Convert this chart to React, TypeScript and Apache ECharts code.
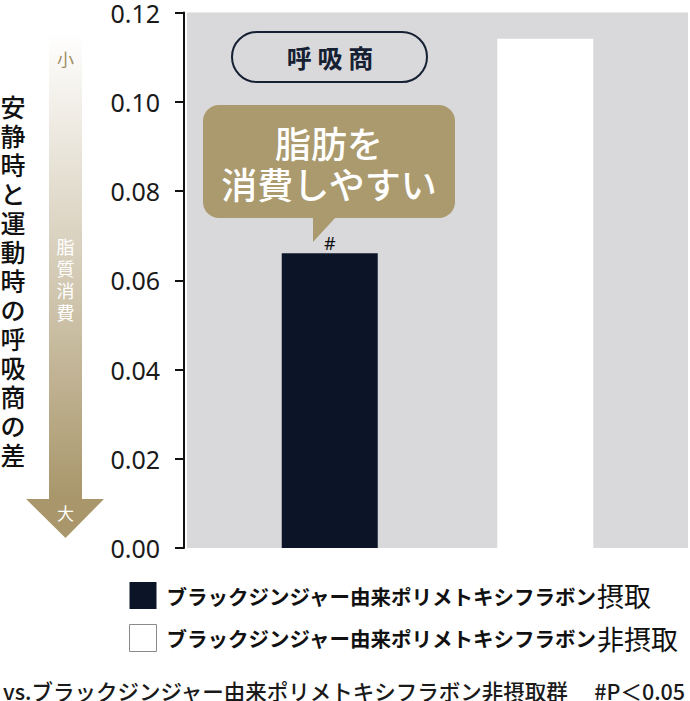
import { useEffect, useRef } from "react";
import * as echarts from "echarts";

const categories = ["摂取", "非摂取"];
const seriesNames = [
  "ブラックジンジャー由来ポリメトキシフラボン摂取",
  "ブラックジンジャー由来ポリメトキシフラボン非摂取",
];
const intakeValues = [0.066, "-"];
const nonIntakeValues = ["-", 0.114];
const yTicks = { min: 0, max: 0.12, interval: 0.02 };
const axisTitle = "安静時と運動時の呼吸商の差";
const arrowLabel = "脂質消費";
const footnote = "vs.ブラックジンジャー由来ポリメトキシフラボン非摂取群";
const pValue = "#P＜0.05";

const JP = '"Noto Sans CJK JP", "Noto Sans", sans-serif';
const TAN = "#ab9a6e";
const NAVY = "#0b1527";

export default function App() {
  const chartRef = useRef<HTMLDivElement>(null);

  useEffect(() => {
    if (!chartRef.current) return;
    const chart = echarts.init(chartRef.current, null, { renderer: "svg" });

    chart.setOption({
      animation: false,
      textStyle: { fontFamily: JP },
      grid: [
        { left: 187, right: 2, top: 12, bottom: 153, show: true, backgroundColor: "#d9d9db", borderWidth: 0 },
        { left: 222, right: 37, top: 12, bottom: 153 },
      ],
      xAxis: [
        { type: "category", gridIndex: 0, data: categories, show: false },
        { type: "category", gridIndex: 1, data: categories, show: false },
      ],
      yAxis: [
        {
          type: "value",
          gridIndex: 0,
          min: yTicks.min,
          max: yTicks.max,
          interval: yTicks.interval,
          offset: 3,
          axisLine: { show: true, lineStyle: { color: "#111", width: 2 } },
          axisTick: { show: true, length: 9, lineStyle: { color: "#111", width: 2 } },
          splitLine: { show: false },
          axisLabel: {
            color: "#1a1a1a",
            fontSize: 25,
            fontFamily: '"Noto Sans", sans-serif',
            margin: 24,
            formatter: (v: number) => v.toFixed(2),
          },
        },
        { type: "value", gridIndex: 1, min: yTicks.min, max: yTicks.max, show: false },
      ],
      legend: {
        orient: "vertical",
        left: 129,
        top: 582,
        padding: 0,
        itemWidth: 27,
        itemHeight: 27,
        itemGap: 15,
        icon: "rect",
        selectedMode: false,
        data: [
          { name: seriesNames[0], itemStyle: { color: NAVY } },
          { name: seriesNames[1], itemStyle: { color: "#fff", borderColor: "#8a8a8a", borderWidth: 1 } },
        ],
        formatter: (name: string) => {
          const m = name.match(/^(.*?)(非?摂取)$/);
          return m ? `{a|${m[1]}}{b|${m[2]}}` : name;
        },
        textStyle: {
          color: "#111",
          rich: {
            a: { fontSize: 20.5, fontWeight: "bold", fontFamily: JP, padding: [0, 0, 0, 5], color: "#111" },
            b: { fontSize: 27, fontWeight: "normal", fontFamily: JP, color: "#111" },
          },
        },
      },
      series: [
        {
          name: seriesNames[0],
          type: "bar",
          xAxisIndex: 1,
          yAxisIndex: 1,
          data: intakeValues,
          barWidth: 96,
          barGap: "-100%",
          itemStyle: { color: NAVY },
          label: {
            show: true,
            position: "top",
            distance: 1,
            formatter: "#",
            fontSize: 18,
            color: "#111",
            fontFamily: '"Noto Sans", sans-serif',
          },
        },
        {
          name: seriesNames[1],
          type: "bar",
          xAxisIndex: 1,
          yAxisIndex: 1,
          data: nonIntakeValues,
          barWidth: 96,
          itemStyle: { color: "#fff" },
        },
      ],
      graphic: [
        // gradient arrow
        {
          type: "polygon",
          shape: {
            points: [
              [49, 32], [82, 32], [82, 499], [104, 499], [65.5, 538], [26, 499], [49, 499],
            ],
          },
          style: {
            fill: new echarts.graphic.LinearGradient(0, 0, 0, 1, [
              { offset: 0, color: "rgba(255,255,255,1)" },
              { offset: 0.5, color: "#d2c8b2" },
              { offset: 0.92, color: "#a9976b" },
              { offset: 1, color: "#a9976b" },
            ]),
          },
        },
        {
          type: "text",
          x: 65.5,
          y: 58,
          style: { text: "小", fontSize: 17, fill: "#a08c5e", align: "center", verticalAlign: "middle", fontFamily: JP },
        },
        {
          type: "text",
          x: 65.5,
          y: 279,
          style: {
            text: arrowLabel.split("").join("\n"),
            fontSize: 18,
            lineHeight: 22,
            fill: "#fff",
            align: "center",
            verticalAlign: "middle",
            fontFamily: JP,
          },
        },
        {
          type: "text",
          x: 65.5,
          y: 512,
          style: { text: "大", fontSize: 17, fill: "#fff", align: "center", verticalAlign: "middle", fontFamily: JP },
        },
        // vertical axis title
        {
          type: "text",
          x: 13,
          y: 280,
          style: {
            text: axisTitle.split("").join("\n"),
            fontSize: 25,
            lineHeight: 29,
            fontWeight: 500,
            fill: "#111",
            align: "center",
            verticalAlign: "middle",
            fontFamily: JP,
          },
        },
        // pill label
        {
          type: "rect",
          shape: { x: 232, y: 32, width: 195, height: 50, r: 25 },
          style: { fill: "none", stroke: "#152033", lineWidth: 2 },
        },
        {
          type: "text",
          x: 330,
          y: 57,
          style: {
            text: "呼 吸 商",
            fontSize: 25,
            fontWeight: "bold",
            fill: "#152033",
            align: "center",
            verticalAlign: "middle",
            fontFamily: JP,
          },
        },
        // callout bubble
        {
          type: "rect",
          shape: { x: 203, y: 105, width: 252, height: 113, r: 16 },
          style: { fill: TAN },
        },
        {
          type: "polygon",
          shape: { points: [[313, 217], [336, 217], [313, 242]] },
          style: { fill: TAN },
        },
        {
          type: "text",
          x: 329,
          y: 162,
          style: {
            text: "脂肪を\n消費しやすい",
            fontSize: 36,
            lineHeight: 41,
            fontWeight: 500,
            fill: "#fff",
            align: "center",
            verticalAlign: "middle",
            fontFamily: JP,
          },
        },
        // footnote
        {
          type: "text",
          x: 3,
          y: 690,
          style: {
            text: `${footnote}　 ${pValue}`,
            fontSize: 21.5,
            fontWeight: 500,
            fill: "#1a1a1a",
            align: "left",
            verticalAlign: "middle",
            fontFamily: JP,
          },
        },
      ],
    });

    return () => {
      chart.dispose();
    };
  }, []);

  return (
    <div
      ref={chartRef}
      style={{ position: "absolute", left: 0, top: 0, width: 690, height: 701, background: "#fff" }}
    />
  );
}
